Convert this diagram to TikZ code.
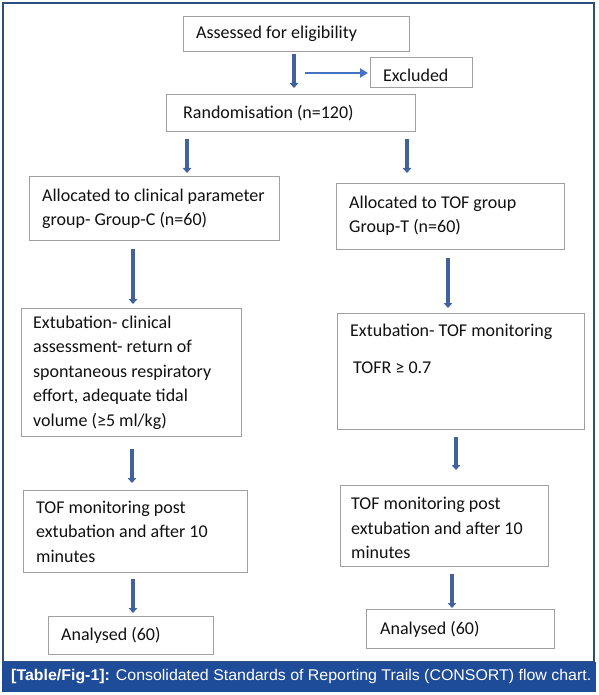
\documentclass[tikz,border=0pt]{standalone}
\usepackage{fontspec}
\setmainfont{Carlito}
\newfontfamily\capfont{Liberation Sans}
\usetikzlibrary{arrows.meta,calc}
\definecolor{framec}{HTML}{2E4E7E}
\definecolor{barc}{HTML}{1F4C98}
\definecolor{arrc}{HTML}{41629C}
\definecolor{harrc}{HTML}{4472C4}
\definecolor{boxc}{HTML}{A0A0A0}
\definecolor{txtc}{HTML}{111111}
\begin{document}
\begin{tikzpicture}[x=1pt,y=-1pt,
  box/.style={draw=boxc,line width=1.2pt,fill=white,inner sep=0pt,anchor=north west},
  txt/.style={font=\fontsize{18}{24.5}\selectfont,text=txtc,align=left,inner sep=0pt},
  varrow/.style={draw=arrc,line width=3.6pt,-{Triangle[length=5pt,width=8.5pt]}},
  harrow/.style={draw=harrc,line width=2pt,-{Triangle[length=8pt,width=9pt]}},
]
\useasboundingbox (0,0) rectangle (598,695);
\fill[white] (0,0) rectangle (598,695);
% outer frame and caption bar
\draw[framec,line width=1.5pt] (3,3) rectangle (594,662);
\fill[barc] (2,662) rectangle (596,692);
\node[anchor=west,inner sep=0pt,text=white,font=\capfont\fontsize{15.5}{17}\selectfont] (cap) at (11,677)
  {\resizebox{580pt}{\height}{\textbf{[Table/Fig-1]:} Consolidated Standards of Reporting Trails (CONSORT) flow chart.}};

% boxes
\node[box,minimum width=226pt,minimum height=35pt] (A) at (183,16) {};
\node[box,minimum width=102pt,minimum height=30pt] (X) at (370,57) {};
\node[box,minimum width=249pt,minimum height=37pt] (R) at (166,94) {};
\node[box,minimum width=250pt,minimum height=64pt] (LA) at (29,176) {};
\node[box,minimum width=228pt,minimum height=66pt] (RA) at (336,183) {};
\node[box,minimum width=220pt,minimum height=128pt] (LE) at (21,308) {};
\node[box,minimum width=247pt,minimum height=116pt] (RE) at (337,313) {};
\node[box,minimum width=224pt,minimum height=82pt] (LT) at (23,490) {};
\node[box,minimum width=208pt,minimum height=81pt] (RT) at (340,485) {};
\node[box,minimum width=165pt,minimum height=38pt] (LN) at (48,616) {};
\node[box,minimum width=188pt,minimum height=39pt] (RN) at (366,609) {};

% texts
\node[txt,anchor=west] (At) at ([xshift=13pt]A.west) {Assessed for eligibility};
\node[txt,anchor=west] (Xt) at ([xshift=13pt,yshift=-3pt]X.west) {Excluded};
\node[txt,anchor=west] (Rt) at ([xshift=17pt]R.west) {Randomisation (n=120)};
\node[txt,anchor=west] (LAt) at ([xshift=13pt]LA.west) {Allocated to clinical parameter\\group- Group-C (n=60)};
\node[txt,anchor=west] (RAt) at ([xshift=13pt,yshift=1pt]RA.west) {Allocated to TOF group\\Group-T (n=60)};
\node[txt,anchor=west] (LEt) at ([xshift=12pt]LE.west) {Extubation- clinical\\assessment- return of\\spontaneous respiratory\\effort, adequate tidal\\volume (≥5 ml/kg)};
\node[txt,anchor=north west] (REt) at ([xshift=13pt,yshift=-11pt]RE.north west) {Extubation- TOF monitoring\\[12.5pt]\hspace*{3pt}TOFR ≥ 0.7};
\node[txt,anchor=west] (LTt) at ([xshift=13pt]LT.west) {TOF monitoring post\\extubation and after 10\\minutes};
\node[txt,anchor=west] (RTt) at ([xshift=11pt,yshift=-2pt]RT.west) {TOF monitoring post\\extubation and after 10\\minutes};
\node[txt,anchor=west] (LNt) at ([xshift=13pt]LN.west) {Analysed (60)};
\node[txt,anchor=west] (RNt) at ([xshift=14pt]RN.west) {Analysed (60)};

% arrow x positions
\coordinate (c1) at (294,0);
\coordinate (c2) at (187,0);
\coordinate (c3) at (407,0);
\coordinate (c4) at (133,0);
\coordinate (c5) at (448,0);
\coordinate (c6) at (132,0);
\coordinate (c7) at (456,0);
\coordinate (c8) at (133,0);
\coordinate (c9) at (452,0);
\coordinate (hs) at (305,73);

% connectors
\draw[varrow,shorten <=2pt,shorten >=6pt] (A.south -| c1) -- (R.north -| c1);
\draw[harrow,shorten >=2pt] (hs) -- (X.west |- hs);
\draw[varrow,shorten <=7pt,shorten >=3pt] (R.south -| c2) -- (LA.north -| c2);
\draw[varrow,shorten <=7pt,shorten >=10pt] (R.south -| c3) -- (RA.north -| c3);
\draw[varrow,shorten <=8pt,shorten >=4pt] (LA.south -| c4) -- (LE.north -| c4);
\draw[varrow,shorten <=8pt,shorten >=5pt] (RA.south -| c5) -- (RE.north -| c5);
\draw[varrow,shorten <=12pt,shorten >=7pt] (LE.south -| c6) -- (LT.north -| c6);
\draw[varrow,shorten <=7pt,shorten >=15pt] (RE.south -| c7) -- (RT.north -| c7);
\draw[varrow,shorten <=6pt,shorten >=3pt] (LT.south -| c8) -- (LN.north -| c8);
\draw[varrow,shorten <=7pt,shorten >=1pt] (RT.south -| c9) -- (RN.north -| c9);
\end{tikzpicture}
\end{document}
